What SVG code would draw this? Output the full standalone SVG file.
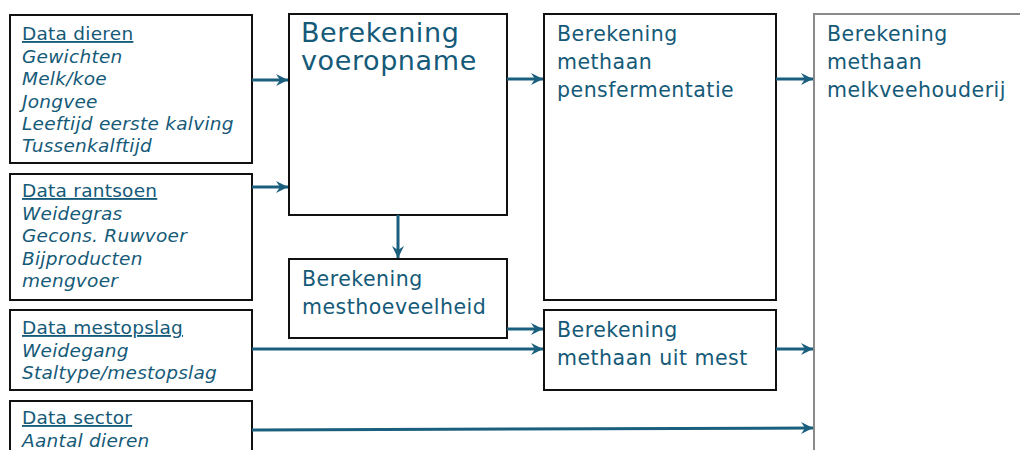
<svg xmlns="http://www.w3.org/2000/svg" width="1020" height="450" viewBox="0 0 1020 450">
<style>
.box{fill:#fff;stroke:#111;stroke-width:2}
.gbox{fill:#fff;stroke:#8a8a8a;stroke-width:2}
.d{font-family:"DejaVu Sans",Verdana,sans-serif;font-size:18.5px;letter-spacing:0.25px;fill:#155a78}
.d .h{font-style:normal;text-decoration:underline}
.d .i{font-style:italic}
.b{font-family:"DejaVu Sans",Verdana,sans-serif;font-size:20.5px;letter-spacing:0.5px;fill:#155a78}
.big{font-size:27px;letter-spacing:0.6px}
.c{stroke:#1b5f7e;stroke-width:3;fill:none}
</style>
<defs>
<marker id="ah" markerUnits="userSpaceOnUse" markerWidth="14" markerHeight="14" refX="12" refY="7" orient="auto">
<path d="M0,1 L12,7 L0,13 L4,7 Z" fill="#1b5f7e"/>
</marker>
</defs>
<rect width="1020" height="450" fill="#fff"/>
<g id="n-dieren">
<rect class="box" x="10" y="15" width="242" height="148"/>
<text class="d" x="22"><tspan class="h" x="22" y="40">Data dieren</tspan><tspan class="i" x="22" y="62.5">Gewichten</tspan><tspan class="i" x="22" y="85">Melk/koe</tspan><tspan class="i" x="22" y="107.5">Jongvee</tspan><tspan class="i" x="22" y="130">Leeftijd eerste kalving</tspan><tspan class="i" x="22" y="152">Tussenkalftijd</tspan></text>
</g>
<g id="n-rantsoen">
<rect class="box" x="10" y="174" width="242" height="126"/>
<text class="d"><tspan class="h" x="22" y="197">Data rantsoen</tspan><tspan class="i" x="22" y="219.5">Weidegras</tspan><tspan class="i" x="22" y="242">Gecons. Ruwvoer</tspan><tspan class="i" x="22" y="264.5">Bijproducten</tspan><tspan class="i" x="22" y="287">mengvoer</tspan></text>
</g>
<g id="n-mestopslag">
<rect class="box" x="10" y="310" width="242" height="80"/>
<text class="d"><tspan class="h" x="22" y="334">Data mestopslag</tspan><tspan class="i" x="22" y="356.5">Weidegang</tspan><tspan class="i" x="22" y="379">Staltype/mestopslag</tspan></text>
</g>
<g id="n-sector">
<rect class="box" x="10" y="401" width="242" height="60"/>
<text class="d"><tspan class="h" x="22" y="424">Data sector</tspan><tspan class="i" x="22" y="446.5">Aantal dieren</tspan></text>
</g>
<g id="n-voeropname">
<rect class="box" x="289" y="14" width="218" height="201"/>
<text class="b big"><tspan x="301" y="42">Berekening</tspan><tspan x="301" y="70">voeropname</tspan></text>
</g>
<g id="n-mesthoeveelheid">
<rect class="box" x="289" y="259" width="218" height="79"/>
<text class="b"><tspan x="302" y="286">Berekening</tspan><tspan x="302" y="314">mesthoeveelheid</tspan></text>
</g>
<g id="n-pens">
<rect class="box" x="544" y="14" width="232" height="286"/>
<text class="b"><tspan x="557" y="41">Berekening</tspan><tspan x="557" y="69">methaan</tspan><tspan x="557" y="97">pensfermentatie</tspan></text>
</g>
<g id="n-uitmest">
<rect class="box" x="544" y="310" width="232" height="80"/>
<text class="b"><tspan x="557" y="337">Berekening</tspan><tspan x="557" y="365">methaan  uit mest</tspan></text>
</g>
<g id="n-melkvee">
<rect class="gbox" x="814" y="14" width="220" height="450"/>
<text class="b"><tspan x="827" y="41">Berekening</tspan><tspan x="827" y="69">methaan</tspan><tspan x="827" y="97">melkveehouderij</tspan></text>
</g>
<g id="connectors">
<line class="c" x1="252" y1="80" x2="288" y2="80" marker-end="url(#ah)"/>
<line class="c" x1="252" y1="187" x2="288" y2="187" marker-end="url(#ah)"/>
<line class="c" x1="507" y1="79" x2="543" y2="79" marker-end="url(#ah)"/>
<line class="c" x1="776" y1="79" x2="813" y2="79" marker-end="url(#ah)"/>
<line class="c" x1="398" y1="215" x2="398" y2="258" marker-end="url(#ah)"/>
<line class="c" x1="507" y1="329" x2="543" y2="329" marker-end="url(#ah)"/>
<line class="c" x1="252" y1="349" x2="543" y2="349" marker-end="url(#ah)"/>
<line class="c" x1="776" y1="349" x2="813" y2="349" marker-end="url(#ah)"/>
<line class="c" x1="252" y1="430" x2="813" y2="428" marker-end="url(#ah)"/>
</g>
</svg>
